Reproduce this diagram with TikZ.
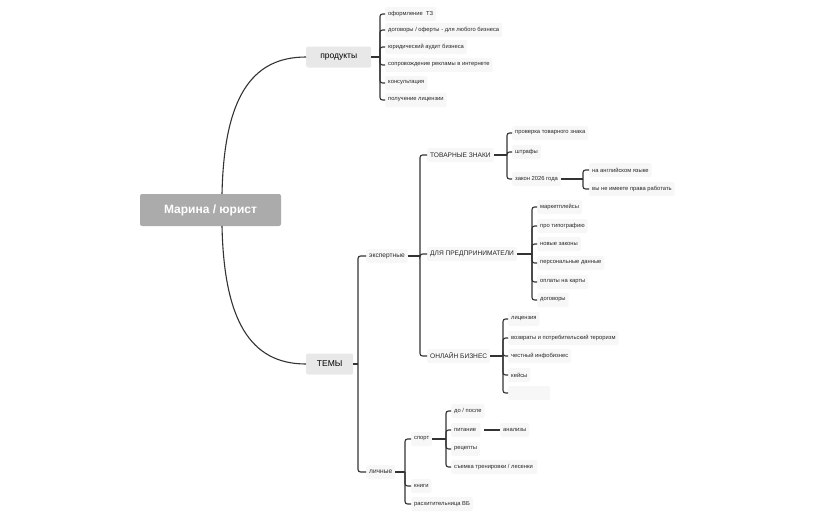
\documentclass[tikz,border=0pt]{standalone}
\usepackage{fontspec}
\setmainfont{Liberation Sans}
\begin{document}
\begin{tikzpicture}[x=1pt,y=-1pt,
  ln/.style={draw=black!80,line width=1.1pt},
  br/.style={ln,rounded corners=2.5pt},
  root/.style={fill=black!33,text=white,rounded corners=2pt,minimum height=32pt,minimum width=141pt,font=\fontsize{12}{14}\selectfont\bfseries,inner sep=0pt},
  cat/.style={fill=black!9,rounded corners=2pt,minimum height=21pt,font=\fontsize{8.5}{10}\selectfont,inner xsep=6pt,inner ysep=0pt,anchor=west},
  sub/.style={fill=black!3,rounded corners=2pt,minimum height=14pt,font=\fontsize{6.6}{8}\selectfont,inner xsep=3pt,inner ysep=0pt,anchor=west,text=black!85},
  leaf/.style={fill=black!3,rounded corners=2pt,minimum height=14pt,font=\fontsize{5.8}{7}\selectfont,inner xsep=3pt,inner ysep=0pt,anchor=west,text=black!85}]
\useasboundingbox (0,0) rectangle (835,517);
\node[root] (root) at (210.5,210) {Марина / юрист};
\node[cat,minimum width=65pt] (prod) at (306,57) {продукты};
\node[cat,minimum width=47pt] (tem) at (306,364) {ТЕМЫ};
\coordinate (rt) at (222,194);
\coordinate (rb) at (222,226);
\draw[ln] (rt) .. controls (224,100) and (250,57) .. (prod.west);
\draw[ln] (rb) .. controls (224,320) and (250,364) .. (tem.west);
% products
\node[leaf] (p1) at (385,14) {оформление \ ТЗ};
\node[leaf] (p2) at (385,30) {договоры / оферты - для любого бизнеса};
\node[leaf] (p3) at (385,47) {юридический аудит бизнеса};
\node[leaf] (p4) at (385,65) {сопровождение рекламы в интернете};
\node[leaf] (p5) at (385,83) {консультация};
\node[leaf] (p6) at (385,100) {получение лицензии};
\coordinate (bp) at (380,57);
\draw[ln] (prod.east) -- (bp);
\foreach \c in {p1,p2,p3,p4,p5,p6} \draw[br] (bp) |- (\c.west);
% темы
\node[sub] (ex) at (366,256) {экспертные};
\node[sub] (li) at (366,472) {личные};
\coordinate (bt) at (358,364);
\draw[ln] (tem.east) -- (bt);
\foreach \c in {ex,li} \draw[br] (bt) |- (\c.west);
% экспертные
\node[sub] (tz) at (427,155) {ТОВАРНЫЕ ЗНАКИ};
\node[sub] (dp) at (427,254) {ДЛЯ ПРЕДПРИНИМАТЕЛИ};
\node[sub] (ob) at (427,356) {ОНЛАЙН БИЗНЕС};
\coordinate (be) at (420,256);
\draw[ln] (ex.east) -- (be);
\foreach \c in {tz,dp,ob} \draw[br] (be) |- (\c.west);
% товарные знаки
\node[leaf] (t1) at (512,133) {проверка товарного знака};
\node[leaf] (t2) at (512,152) {штрафы};
\node[leaf] (t3) at (512,179) {закон 2026 года};
\coordinate (btz) at (507,155);
\draw[ln] (tz.east) -- (btz);
\foreach \c in {t1,t2,t3} \draw[br] (btz) |- (\c.west);
\node[leaf] (z1) at (589,170) {на английском языке};
\node[leaf] (z2) at (589,189) {вы не имеете права работать};
\coordinate (bz) at (583,179);
\draw[ln] (t3.east) -- (bz);
\foreach \c in {z1,z2} \draw[br] (bz) |- (\c.west);
% для предпринимателей
\node[leaf] (d1) at (537,207) {маркетплейсы};
\node[leaf] (d2) at (537,226) {про типографию};
\node[leaf] (d3) at (537,244) {новые законы};
\node[leaf] (d4) at (537,263) {персональные данные};
\node[leaf] (d5) at (537,282) {оплаты на карты};
\node[leaf] (d6) at (537,300) {договоры};
\coordinate (bd) at (532,254);
\draw[ln] (dp.east) -- (bd);
\foreach \c in {d1,d2,d3,d4,d5,d6} \draw[br] (bd) |- (\c.west);
% онлайн бизнес
\node[leaf] (o1) at (508,319) {лицензия};
\node[leaf] (o2) at (508,338) {возвраты и потребительский тероризм};
\node[leaf] (o3) at (508,356) {честный инфобизнес};
\node[leaf] (o4) at (508,375) {кейсы};
\node[leaf,minimum width=42pt] (o5) at (508,393) {};
\coordinate (bo) at (503,356);
\draw[ln] (ob.east) -- (bo);
\foreach \c in {o1,o2,o3,o4,o5} \draw[br] (bo) |- (\c.west);
% личные
\node[leaf] (l1) at (411,439) {спорт};
\node[leaf] (l2) at (411,486) {книги};
\node[leaf] (l3) at (411,504) {расхитительница ВБ};
\coordinate (bl) at (405,472);
\draw[ln] (li.east) -- (bl);
\foreach \c in {l1,l2,l3} \draw[br] (bl) |- (\c.west);
% спорт
\node[leaf] (s1) at (451,411) {до / после};
\node[leaf] (s2) at (451,430) {питание \ };
\node[leaf] (s3) at (451,449) {рецепты};
\node[leaf] (s4) at (451,467) {съемка тренировки / лесенки \ };
\coordinate (bs) at (446,439);
\draw[ln] (l1.east) -- (bs);
\foreach \c in {s1,s2,s3,s4} \draw[br] (bs) |- (\c.west);
\node[leaf] (an) at (500,430) {анализы};
\draw[ln] (s2.east) ++(3,0) -- (an.west);
\end{tikzpicture}
\end{document}
